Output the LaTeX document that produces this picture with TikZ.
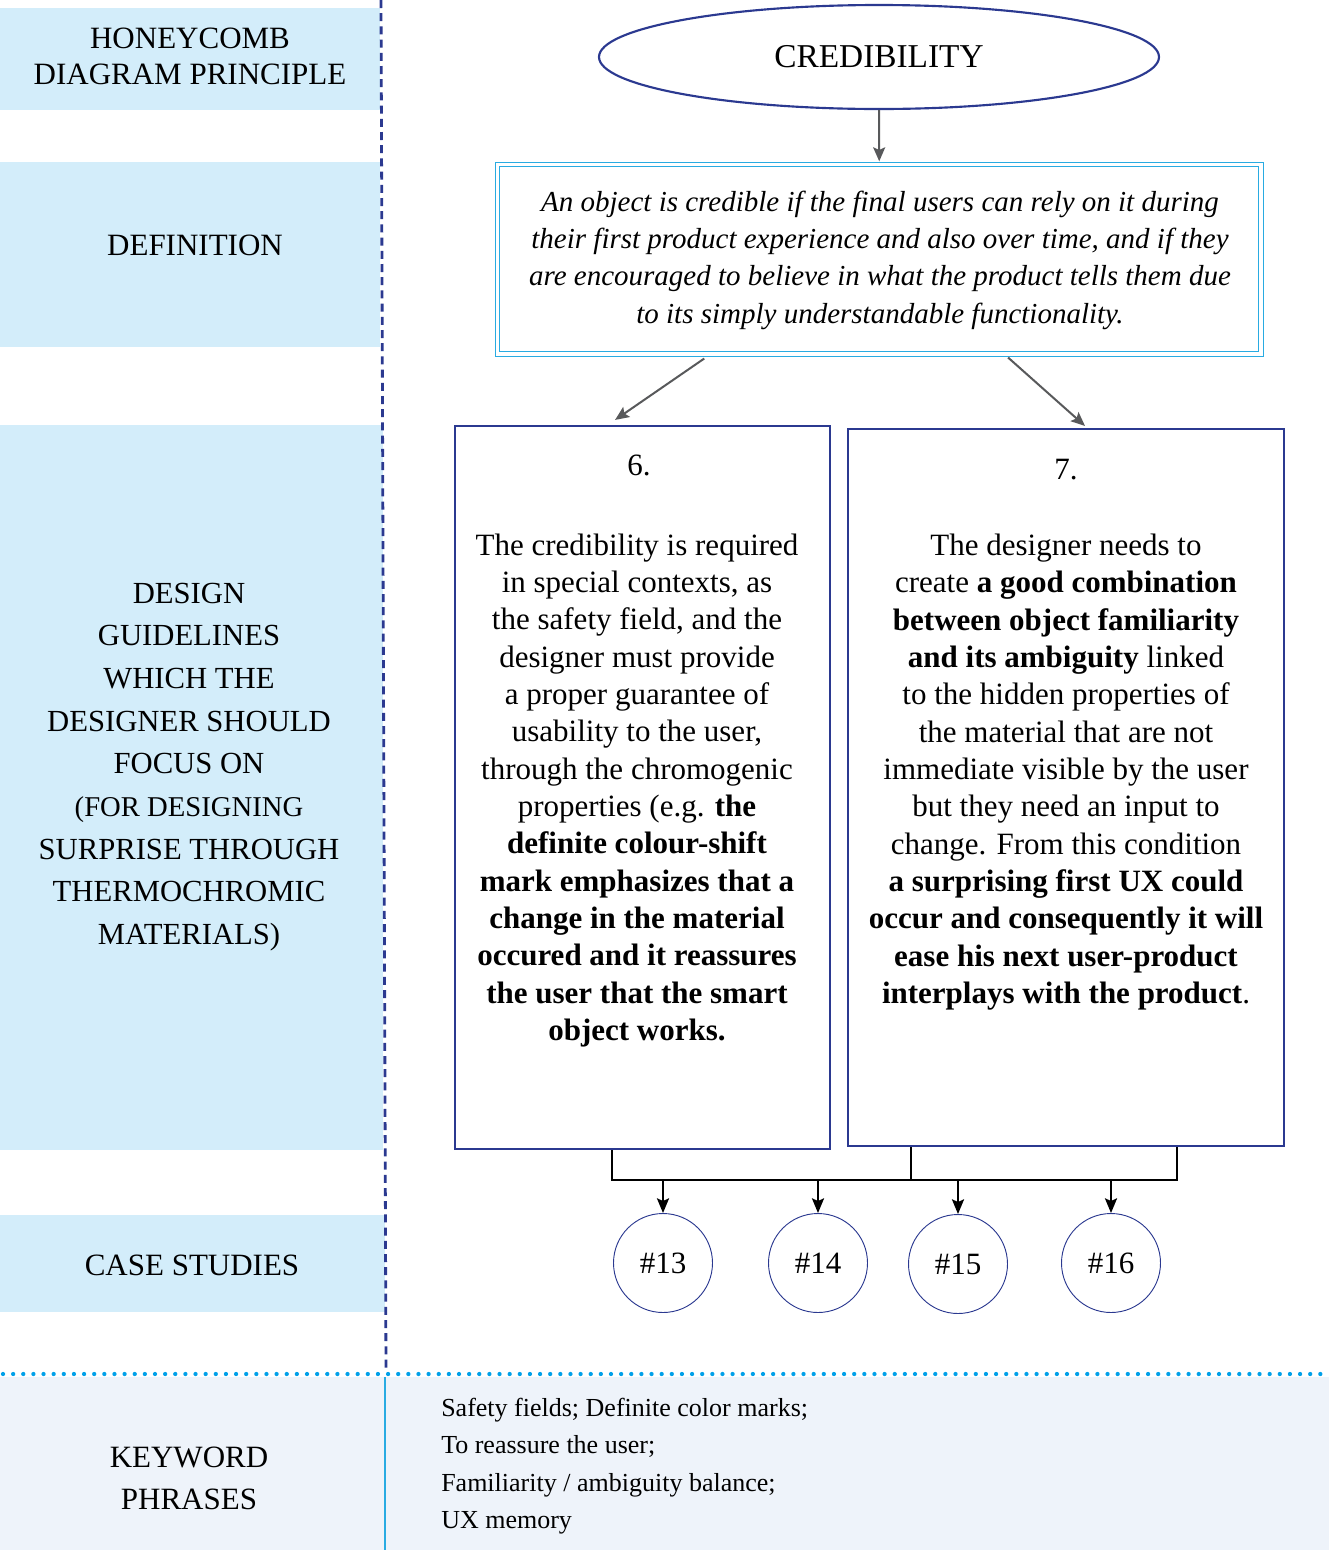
\documentclass[tikz,border=0pt]{standalone}
\usepackage{fontspec}
\setmainfont{Liberation Serif}
\usetikzlibrary{shapes.geometric,arrows.meta,calc}
\definecolor{bandblue}{RGB}{211,237,250}
\definecolor{navy}{RGB}{43,57,144}
\definecolor{defblue}{RGB}{41,171,226}
\definecolor{dotblue}{RGB}{0,160,233}
\definecolor{bottomfill}{RGB}{238,243,250}
\definecolor{arrowgrey}{RGB}{88,89,91}
\newcommand\fsz[2]{\fontsize{#1}{#2}\selectfont}
\begin{document}
\begin{tikzpicture}[x=0.75pt,y=-0.75pt,
  bandbox/.style={fill=bandblue, draw=none, inner sep=0pt},
  lefttxt/.style={align=center, inner sep=0pt, font=\fsz{23.25}{27}},
  bodytxt/.style={align=center, inner sep=0pt, font=\fsz{23.25}{28}},
  mainbox/.style={draw=navy, line width=1.6pt, inner sep=0pt},
  casecircle/.style={circle, draw=navy, line width=0.7pt, minimum size=74.25pt, inner sep=0pt, font=\fsz{23.25}{28}},
  garrow/.style={draw=arrowgrey, line width=1.5pt, -{Stealth[length=10.5pt,width=9pt,inset=2pt]}},
  barrow/.style={draw=black, line width=1.8pt, -{Stealth[length=11pt,width=9pt,inset=2pt]}},
  busline/.style={draw=black, line width=1.8pt}]
\useasboundingbox (0,0) rectangle (1329,1550);
% left bands
\node[bandbox, minimum width=285pt, minimum height=76.5pt] (b1) at (190,59) {};
\node[bandbox, minimum width=285pt, minimum height=138.75pt] (b2) at (190,254.5) {};
\node[bandbox, minimum width=287.25pt, minimum height=543.75pt] (b3) at (191.5,787.5) {};
\node[bandbox, minimum width=288.75pt, minimum height=72.75pt] (b4) at (192.5,1263.5) {};
% bottom area
\fill[bottomfill] (0,1377) rectangle (1329,1550);
\draw[defblue, line width=0.8pt] (385,1377) -- (385,1550);
\draw[dotblue, line width=3.2pt, line cap=round, dash pattern=on 0pt off 7.6pt] (3,1374) -- (1329,1374);
\draw[navy, line width=2.1pt, dash pattern=on 6pt off 3.9pt] (381,0) -- (386,1372);
% left texts
\node[lefttxt] (t1) at (190,56) {HONEYCOMB\\DIAGRAM PRINCIPLE};
\node[lefttxt] (t2) at (195,245) {DEFINITION};
\node[lefttxt, font=\fsz{23}{32}] (t3) at (189,767) {DESIGN\\GUIDELINES\\WHICH THE\\DESIGNER SHOULD\\FOCUS ON\\\fsz{21.5}{32}(FOR DESIGNING\\SURPRISE THROUGH\\THERMOCHROMIC\\MATERIALS)};
\node[lefttxt] (t4) at (192,1265) {CASE STUDIES};
\node[lefttxt, font=\fsz{23.25}{31.5}] (t5) at (189,1478) {KEYWORD\\PHRASES};
\node[anchor=west, align=left, inner sep=0pt, font=\fsz{19.5}{28}] (kw) at (441,1466) {Safety fields; Definite color marks;\\To reassure the user;\\Familiarity / ambiguity balance;\\UX memory};
% main diagram
\node[ellipse, draw=navy, line width=1.6pt, minimum width=420pt, minimum height=78pt, inner sep=0pt, font=\fsz{25}{30}] (cred) at (879,57) {CREDIBILITY};
\node[draw=defblue, double=white, double distance=2.6pt, line width=0.8pt, minimum width=572.6pt, minimum height=142.1pt, inner sep=0pt] (def) at (879.25,259.25) {};
\node[align=center, inner sep=0pt, font=\fsz{21.75}{28}\itshape] (deftxt) at (880,260) {An object is credible if the final users can rely on it during\\their first product experience and also over time, and if they\\are encouraged to believe in what the product tells them due\\to its simply understandable functionality.};
\node[mainbox, minimum width=281.25pt, minimum height=542.25pt] (box6) at (642.5,787.5) {};
\node[mainbox, minimum width=327pt, minimum height=537.75pt] (box7) at (1066,787.5) {};
\node[bodytxt] (n6) at (639,465) {6.};
\node[bodytxt] (n7) at (1066,470) {7.};
\node[bodytxt] (txt6) at (637,790.5) {The credibility is required\\in special contexts, as\\the safety field, and the\\designer must provide\\a proper guarantee of\\usability to the user,\\through the chromogenic\\properties (e.g. \textbf{the}\\\textbf{definite colour-shift}\\\textbf{mark emphasizes that a}\\\textbf{change in the material}\\\textbf{occured and it reassures}\\\textbf{the user that the smart}\\\textbf{object works.}};
\node[bodytxt] (txt7) at (1066,772) {The designer needs to\\create \textbf{a good combination}\\\textbf{between object familiarity}\\\textbf{and its ambiguity} linked\\to the hidden properties of\\the material that are not\\immediate visible by the user\\but they need an input to\\change. From this condition\\\textbf{a surprising first UX could}\\\textbf{occur and consequently it will}\\\textbf{ease his next user-product}\\\textbf{interplays with the product}.};
% case circles
\node[casecircle] (c13) at (663,1263) {\#13};
\node[casecircle] (c14) at (818,1263) {\#14};
\node[casecircle] (c15) at (958,1264) {\#15};
\node[casecircle] (c16) at (1111,1263) {\#16};
% grey arrows
\draw[garrow] (cred.south) -- ([yshift=2pt]def.north);
\draw[garrow] ([xshift=-131.25pt,yshift=-3pt]def.south) -- ([xshift=-20.6pt,yshift=3.75pt]box6.north);
\draw[garrow] ([xshift=96.6pt,yshift=-2.25pt]def.south) -- ([xshift=14.25pt,yshift=1.5pt]box7.north);
% bus connectors
\coordinate (busL) at (612,1180);
\coordinate (busM) at (911,1180);
\coordinate (busR) at (1177,1180);
\draw[busline] (box6.south -| busL) -- (busL) -- (busR) -- (box7.south -| busR);
\draw[busline] (box7.south -| busM) -- (busM);
\draw[barrow] (c13 |- busL) -- (c13.north);
\draw[barrow] (c14 |- busL) -- (c14.north);
\draw[barrow] (c15 |- busL) -- (c15.north);
\draw[barrow] (c16 |- busL) -- (c16.north);
\end{tikzpicture}
\end{document}
